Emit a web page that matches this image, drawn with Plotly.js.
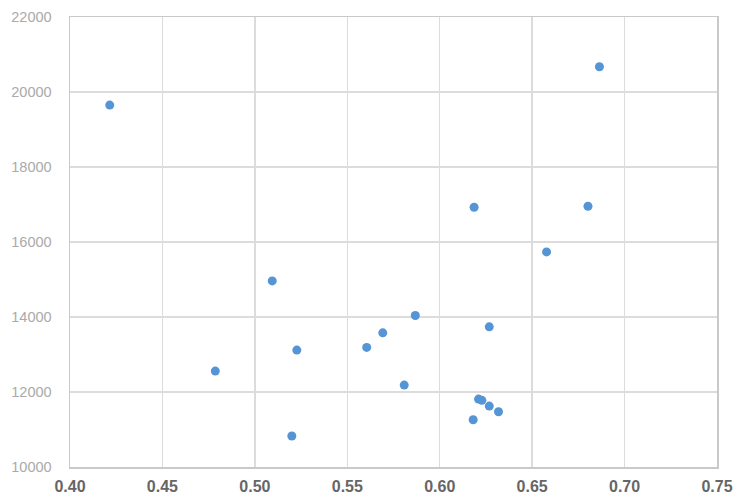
<!DOCTYPE html>
<html>
<head>
<meta charset="utf-8">
<script src="https://cdn.plot.ly/plotly-3.0.1.min.js"></script>
<style>html,body{margin:0;padding:0;background:#fff;}#chart{width:740px;height:504px;}</style>
</head>
<body>
<div id="chart"></div>
<script>
const xValues = [0.4215, 0.6864, 0.6186, 0.6802, 0.6578, 0.5094, 0.5227, 0.4786, 0.5200, 0.5605, 0.5692, 0.5868, 0.6268, 0.5808, 0.6210, 0.6228, 0.6268, 0.6318, 0.6181];
const yValues = [19651, 20674, 16926, 16953, 15735, 14963, 13117, 12557, 10826, 13189, 13578, 14041, 13738, 12184, 11811, 11777, 11625, 11473, 11260];
const xTicks = [0.40, 0.45, 0.50, 0.55, 0.60, 0.65, 0.70, 0.75];
const xTickLabels = ['0.40', '0.45', '0.50', '0.55', '0.60', '0.65', '0.70', '0.75'];
const yTicks = [10000, 12000, 14000, 16000, 18000, 20000, 22000];
const yTickLabels = ['10000', '12000', '14000', '16000', '18000', '20000', '22000'];

const trace = {
  type: 'scatter', mode: 'markers', x: xValues, y: yValues,
  marker: {color: '#5595d5', size: 9, line: {width: 0}},
  hoverinfo: 'x+y'
};
const layout = {
  width: 740, height: 504,
  margin: {l: 69.5, r: 22.5, t: 16.5, b: 37},
  paper_bgcolor: '#ffffff', plot_bgcolor: '#ffffff',
  showlegend: false,
  xaxis: {
    range: [0.40, 0.75], tickvals: xTicks, ticktext: xTickLabels,
    showgrid: true, gridcolor: '#dcdcdc', gridwidth: 1.5,
    showline: true, linecolor: '#c9c9c9', linewidth: 1.5, mirror: true,
    zeroline: false, ticks: 'outside', ticklen: 4, tickcolor: 'rgba(0,0,0,0)',
    tickfont: {family: 'Liberation Sans, Arial, sans-serif', size: 16, color: '#666666', weight: 'bold'}
  },
  yaxis: {
    range: [10000, 22000], tickvals: yTicks, ticktext: yTickLabels,
    showgrid: true, gridcolor: '#dcdcdc', gridwidth: 1.5,
    showline: true, linecolor: '#c9c9c9', linewidth: 1.5, mirror: true,
    zeroline: false, ticks: 'outside', ticklen: 14, tickcolor: 'rgba(0,0,0,0)',
    tickfont: {family: 'Liberation Sans, Arial, sans-serif', size: 14.5, color: '#aaaaaa'}
  }
};
Plotly.newPlot('chart', [trace], layout, {displayModeBar: false, staticPlot: true});
</script>
</body>
</html>
